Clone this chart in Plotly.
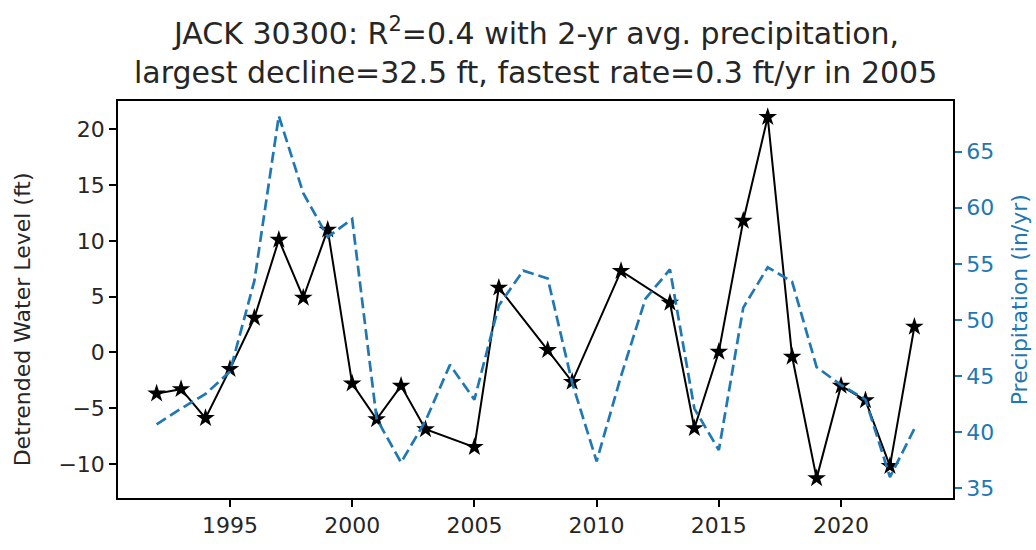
import plotly.graph_objects as go

# Detrended water level for well JACK 30300 (years with a measurement only)
wl_years = [1992, 1993, 1994, 1995, 1996, 1997, 1998, 1999, 2000, 2001, 2002, 2003,
            2005, 2006, 2008, 2009, 2011, 2013, 2014, 2015, 2016, 2017, 2018, 2019,
            2020, 2021, 2022, 2023]
water_level = [-3.7, -3.3, -5.9, -1.5, 3.1, 10.1, 4.9, 11.0, -2.8, -6.0, -3.0, -6.9,
               -8.5, 5.8, 0.2, -2.65, 7.3, 4.45, -6.8, 0.05, 11.8, 21.1, -0.4, -11.3,
               -3.0, -4.3, -10.2, 2.3]

# Two-year average precipitation (in/yr)
precip_years = list(range(1992, 2024))
precip_2yr = [40.7, 42.1, 43.4, 45.4, 53.5, 68.2, 61.3, 57.4, 59.0, 41.2, 37.3, 41.0,
              46.0, 42.9, 51.3, 54.4, 53.7, 44.4, 37.4, 45.0, 51.9, 54.5, 42.1, 38.4,
              51.1, 54.7, 53.4, 45.8, 44.2, 42.9, 36.0, 40.3]

x_ticks = [1995, 2000, 2005, 2010, 2015, 2020]
wl_ticks = [-10, -5, 0, 5, 10, 15, 20]
precip_ticks = [35, 40, 45, 50, 55, 60, 65]

title_lines = [
    "JACK 30300: R<sup>2</sup>=0.4 with 2-yr avg. precipitation,",
    "largest decline=32.5 ft, fastest rate=0.3 ft/yr in 2005",
]

BLUE = "#1f77b4"
FONT = "DejaVu Sans"
TEXT = "#262626"

fig = go.Figure()

fig.add_trace(go.Scatter(
    x=wl_years, y=water_level, mode="lines+markers",
    line=dict(color="black", width=2),
    marker=dict(symbol="star", size=14, color="black"),
    yaxis="y", showlegend=False,
))

fig.add_trace(go.Scatter(
    x=precip_years, y=precip_2yr, mode="lines",
    line=dict(color=BLUE, width=2.7, dash="11px,5px"),
    yaxis="y2", showlegend=False,
))

axis_common = dict(
    showgrid=False, zeroline=False, showline=True, linecolor="black", linewidth=1.5,
    ticks="outside", ticklen=7, tickwidth=1.5,
)

fig.update_layout(
    width=1036, height=550,
    margin=dict(l=118, r=83, t=101, b=42),
    paper_bgcolor="white", plot_bgcolor="white",
    font=dict(family=FONT, size=22, color=TEXT),
    xaxis=dict(range=[1990.42, 2024.58], tickvals=x_ticks, mirror=True,
               tickcolor="black", **axis_common),
    yaxis=dict(range=[-13.06, 22.54], tickvals=wl_ticks,
               ticktext=[str(v).replace("-", "\u2212") for v in wl_ticks],
               tickcolor="black", **axis_common),
    yaxis2=dict(range=[34.13, 69.52], tickvals=precip_ticks, overlaying="y", side="right",
                tickcolor=BLUE, tickfont=dict(color=BLUE), **axis_common),
)

# Two-line title above the axes
for text, ypos in zip(title_lines, [1.1744, 1.0713]):
    fig.add_annotation(text=text, xref="paper", yref="paper", x=0.5, y=ypos,
                       xanchor="center", yanchor="middle", showarrow=False,
                       font=dict(family=FONT, size=30, color=TEXT))

# Axis titles
fig.add_annotation(text="Detrended Water Level (ft)", xref="paper", yref="paper",
                   x=-0.115, y=0.45, xanchor="center", yanchor="middle", textangle=-90,
                   showarrow=False, font=dict(family=FONT, size=22, color=TEXT))
fig.add_annotation(text="Precipitation (in/yr)", xref="paper", yref="paper",
                   x=1.08, y=0.5, xanchor="center", yanchor="middle", textangle=-90,
                   showarrow=False, font=dict(family=FONT, size=22, color=BLUE))

fig.write_html("out.html")
